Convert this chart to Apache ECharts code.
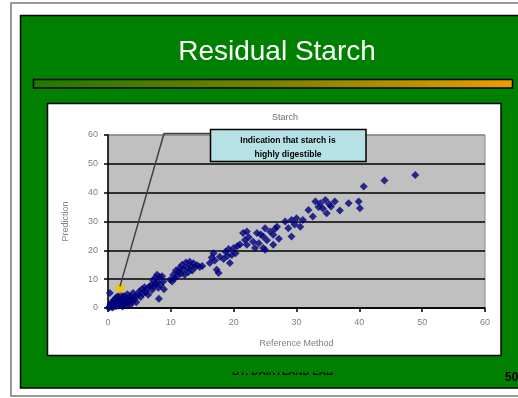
<!DOCTYPE html>
<html><head><meta charset="utf-8">
<script src="https://cdn.jsdelivr.net/npm/echarts@6/dist/echarts.min.js"></script>
<style>html,body{margin:0;padding:0;background:#fff;overflow:hidden}#c{width:518px;height:398px}</style>
</head><body><div id="c"></div>
<script>
const slideTitle = 'Residual Starch';
const chartTitle = 'Starch';
const xName = 'Reference Method';
const yName = 'Prediction';
const calloutLines = ['Indication that starch is', 'highly digestible'];
const footerText = 'BY: DAIRYLAND LAB';
const pageNumber = '50';
const xTicks = [0, 10, 20, 30, 40, 50, 60];
const yTicks = [0, 10, 20, 30, 40, 50, 60];

// [reference, prediction]
const samples = [
  [0.1,0.1],[0.2,0.3],[0.7,0.2],[0.4,1.2],[0.5,0.5],[0.6,2.0],[0.3,5.2],[0.8,1.5],[0.9,0.4],[1.0,2.8],
  [1.1,1.0],[1.2,3.5],[1.3,0.6],[1.4,2.2],[1.5,4.0],[1.6,1.4],[1.7,0.8],[1.8,3.0],[1.9,2.0],[2.0,4.6],
  [2.1,1.2],[2.2,2.8],[2.3,0.5],[2.4,3.6],[2.5,1.8],[2.6,4.2],[2.7,2.5],[2.8,1.0],[2.9,3.2],[3.0,2.0],
  [3.1,4.8],[3.2,1.5],[3.3,3.0],[3.4,2.4],[3.5,4.0],[3.6,1.2],[3.8,3.5],[3.9,2.2],[4.0,5.2],[4.2,3.0],
  [4.4,4.2],[4.5,2.0],
  [4.8,4.5],[5.0,5.8],[5.2,3.8],[5.4,6.5],[5.6,5.0],[5.8,7.2],[6.0,5.5],[6.2,6.8],[6.4,4.6],[6.6,7.5],
  [6.9,8.0],[7.0,6.2],[7.2,9.5],[7.3,7.5],[7.5,10.5],[7.6,8.5],[7.8,11.5],[7.9,9.0],[8.0,7.0],[8.1,3.2],
  [8.2,10.8],[8.4,8.0],[8.6,11.0],[8.8,9.2],[8.9,6.5],
  [9.9,9.8],[10.2,9.2],[10.4,11.5],[10.6,10.2],[10.8,13.0],[11.0,11.0],[11.2,12.5],[11.4,14.0],[11.6,12.0],
  [11.8,15.0],[12.0,13.5],[12.2,11.5],[12.4,15.8],[12.6,14.0],[12.8,12.5],[13.0,16.0],[13.2,14.5],[13.4,13.0],
  [13.6,15.5],[13.9,14.2],[14.2,14.8],[14.6,14.2],[15.0,14.6],
  [16.2,15.6],[16.5,17.5],[16.8,19.0],[17.0,16.5],[17.3,13.3],[17.6,12.1],[17.8,17.8],
  [18.4,17.0],[18.7,19.5],[19.0,18.0],[19.2,20.5],[19.4,15.6],[19.7,18.4],[20.0,20.8],[20.3,19.0],[20.6,21.5],
  [21.0,22.0],[21.5,26.0],[21.8,23.6],[22.1,21.9],[22.1,26.5],[22.4,24.5],[23.1,23.0],[23.4,20.8],[23.7,26.0],
  [24.0,22.5],[24.3,25.5],[24.7,24.8],[24.7,20.8],[25.0,27.7],[25.0,20.2],[25.3,23.5],[25.8,26.5],[26.3,25.4],
  [26.3,21.9],[26.6,27.5],[26.9,28.2],[27.2,24.0],
  [28.2,30.0],[28.7,27.7],[29.2,30.5],[29.2,24.8],[29.7,29.0],[30.0,31.1],[30.6,28.2],[31.0,30.5],
  [31.9,34.0],[32.6,31.7],[33.0,36.9],[33.5,35.0],[33.8,36.3],[34.2,34.5],[34.6,37.5],[34.8,32.9],[35.2,36.0],
  [35.5,35.2],[36.1,36.9],[36.9,33.8],[38.3,36.3],[39.9,36.9],[40.1,34.6],
  [40.7,42.1],[44.0,44.2],[48.9,46.1]
];
const highlighted = [[1.9, 6.8]];

const chart = echarts.init(document.getElementById('c'), null, {renderer: 'canvas'});
const axisText = {color: '#808080', fontSize: 9, fontFamily: 'Liberation Sans'};

chart.setOption({
  animation: false,
  backgroundColor: '#ffffff',
  title: {
    text: chartTitle, left: 280, top: 108, textAlign: 'center',
    textStyle: {color: '#707070', fontSize: 9, fontWeight: 'normal', fontFamily: 'Liberation Sans'}
  },
  grid: {
    left: 108, right: 33, top: 135, bottom: 90, show: true,
    backgroundColor: '#c0c0c0', borderColor: '#8a8a8a', borderWidth: 1
  },
  xAxis: {
    type: 'value', min: xTicks[0], max: xTicks[xTicks.length - 1], interval: 10,
    name: xName, nameLocation: 'middle', nameGap: 31,
    nameTextStyle: axisText,
    axisLine: {show: true, onZero: false, lineStyle: {color: '#000', width: 1.5}},
    axisTick: {show: true, length: 4, lineStyle: {color: '#000', width: 1.5}},
    axisLabel: Object.assign({margin: 10}, axisText),
    splitLine: {show: false}
  },
  yAxis: {
    type: 'value', min: yTicks[0], max: yTicks[yTicks.length - 1], interval: 10,
    name: yName, nameLocation: 'middle', nameGap: 38, nameRotate: 90,
    nameTextStyle: axisText,
    axisLine: {show: true, onZero: false, lineStyle: {color: '#000', width: 1.5}},
    axisTick: {show: true, length: 4, lineStyle: {color: '#000', width: 1.5}},
    axisLabel: Object.assign({margin: 10}, axisText),
    splitLine: {show: true, lineStyle: {color: ['#000','#000','#000','#000','#000','#000','#8a8a8a'], width: 1.5}}
  },
  series: [
    {type: 'scatter', data: samples, symbol: 'diamond', symbolSize: 8,
     itemStyle: {color: '#00007a'}, z: 3},
    {type: 'scatter', data: highlighted, symbol: 'circle', symbolSize: 10,
     itemStyle: {color: '#f2c200'}, z: 4}
  ]
});

const p = chart.convertToPixel({gridIndex: 0}, highlighted[0]);

chart.setOption({
  graphic: [
    {type: 'rect', z: -20, silent: true, shape: {x: 11, y: 3, width: 530, height: 393},
     style: {fill: '#ffffff', stroke: '#7a7a7a', lineWidth: 1.5}},
    {type: 'rect', z: -19, silent: true, shape: {x: 20.5, y: 15.5, width: 520, height: 372.5},
     style: {fill: '#008000', stroke: '#000000', lineWidth: 1.5}},
    {type: 'text', z: -18, silent: true, x: 277, y: 52,
     style: {text: slideTitle, fill: '#ffffff', fontSize: 28, fontFamily: 'Liberation Sans',
             align: 'center', verticalAlign: 'middle'}},
    {type: 'rect', z: -18, silent: true, shape: {x: 33.5, y: 79.5, width: 479, height: 8.5},
     style: {stroke: '#000', lineWidth: 1.5,
             fill: new echarts.graphic.LinearGradient(0, 0, 1, 0, [
               {offset: 0, color: '#1f7a00'}, {offset: 0.5, color: '#7a8000'}, {offset: 1, color: '#f09a00'}])}},
    {type: 'rect', z: -18, silent: true, shape: {x: 47.5, y: 103.5, width: 453.5, height: 252},
     style: {fill: '#ffffff', stroke: '#000', lineWidth: 1.5}},
    {type: 'text', z: -17, silent: true, x: 232, y: 377,
     style: {text: footerText, fill: '#000', fontSize: 10, fontWeight: 'bold', fontFamily: 'Liberation Sans',
             align: 'left', verticalAlign: 'bottom'}},
    {type: 'rect', z: -16, silent: true, shape: {x: 225, y: 362, width: 110, height: 10.5},
     style: {fill: '#008000'}},
    {type: 'text', z: -17, silent: true, x: 505, y: 378,
     style: {text: pageNumber, fill: '#000', fontSize: 12, fontWeight: 'bold', fontFamily: 'Liberation Sans',
             align: 'left', verticalAlign: 'middle'}},
    {type: 'polyline', z: 50, silent: true,
     shape: {points: [[210, 133.5], [164, 133.5], [p[0], p[1] - 2]]},
     style: {stroke: '#404040', lineWidth: 1.5, fill: null}},
    {type: 'rect', z: 51, silent: true, shape: {x: 210.5, y: 129.5, width: 155.5, height: 32},
     style: {fill: '#b6e2e6', stroke: '#000', lineWidth: 1.5}},
    {type: 'text', z: 52, silent: true, x: 288, y: 140.5,
     style: {text: calloutLines[0], fill: '#000', fontSize: 8.5, fontWeight: 'bold', fontFamily: 'Liberation Sans',
             align: 'center', verticalAlign: 'middle'}},
    {type: 'text', z: 52, silent: true, x: 288, y: 155,
     style: {text: calloutLines[1], fill: '#000', fontSize: 8.5, fontWeight: 'bold', fontFamily: 'Liberation Sans',
             align: 'center', verticalAlign: 'middle'}}
  ]
});
</script></body></html>
